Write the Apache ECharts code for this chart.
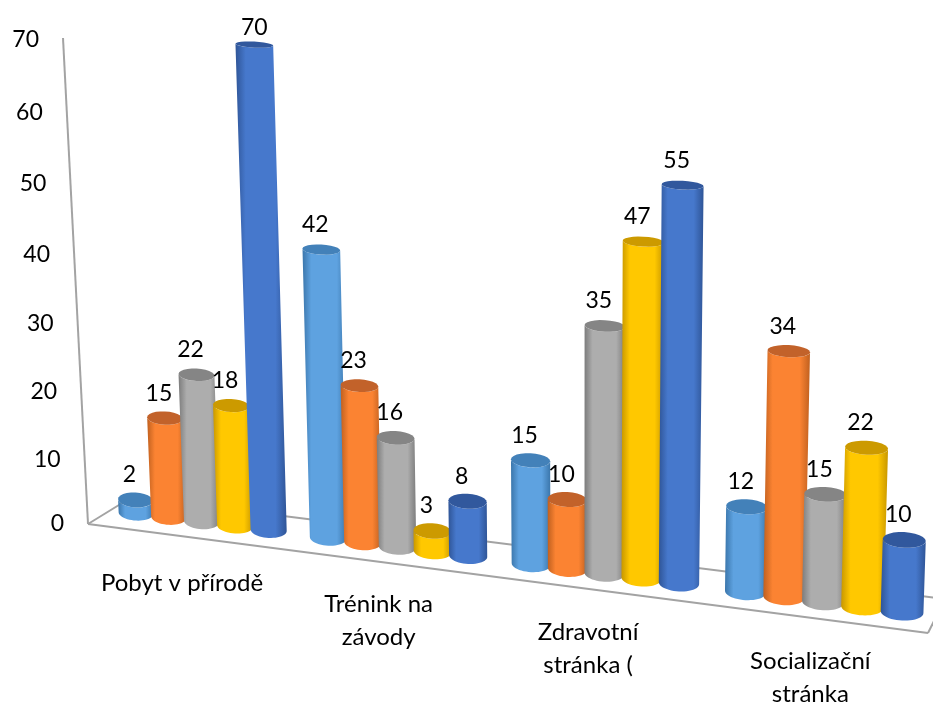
<!DOCTYPE html>
<html>
<head>
<meta charset="utf-8">
<style>html,body{margin:0;padding:0;background:#fff}#c{width:933px;height:704px}</style>
<script src="https://cdn.jsdelivr.net/npm/echarts@6/dist/echarts.min.js"></script>
</head>
<body>
<div id="c"></div>
<script>
var categories = ['Pobyt v přírodě', 'Trénink na\nzávody', 'Zdravotní\nstránka (', 'Socializační\nstránka'];
var yTicks = [0, 10, 20, 30, 40, 50, 60, 70];
var series1 = [2, 42, 15, 12];
var series2 = [15, 23, 10, 34];
var series3 = [22, 16, 35, 15];
var series4 = [18, 3, 47, 22];
var series5 = [70, 8, 55, 10];
var allSeries = [series1, series2, series3, series4, series5];

var palette = [
  {edge:'#3b76ab', mid:'#5ea2e0', top:'#4381b9'},
  {edge:'#c0601f', mid:'#fb8332', top:'#c2622a'},
  {edge:'#7c7c7c', mid:'#adadad', top:'#858585'},
  {edge:'#c89700', mid:'#ffc800', top:'#cc9a00'},
  {edge:'#2f5597', mid:'#4678cc', top:'#31589d'}
];

var SLOT_GAP = 5.75, SLOT_MAX = 21.25, BAR_W = 1.07, FONT = 'Lato';
var catShift = [[-22,-20],[-20,-26],[-16,-26],[-11,-27]];

function homography(q) {
  var x0=q[0][0],y0=q[0][1],x1=q[1][0],y1=q[1][1],x2=q[2][0],y2=q[2][1],x3=q[3][0],y3=q[3][1];
  var dx1=x1-x2,dx2=x3-x2,sx=x0-x1+x2-x3,dy1=y1-y2,dy2=y3-y2,sy=y0-y1+y2-y3;
  var den=dx1*dy2-dx2*dy1;
  var g=(sx*dy2-dx2*sy)/den,h=(dx1*sy-sx*dy1)/den;
  var a=x1-x0+g*x1,b=x3-x0+h*x3,d=y1-y0+g*y1,e=y3-y0+h*y3;
  return function(u,v){var w=g*u+h*v+1;return [(a*u+b*v+x0)/w,(d*u+e*v+y0)/w];};
}
// perspective planes: bar plane, front frame plane, floor plane
var barPlane = homography([[136,513],[902,612],[918,86],[116,36]]);
var framePlane = homography([[88,524],[928,633],[948,108],[63,38]]);
var floorPlane = homography([[88,524],[928,633],[945,599],[132,497]]);

function norm(api, slot, val) {
  var o = api.coord([0,0]), m = api.coord([SLOT_MAX,70]), p = api.coord([slot,val]);
  return [(p[0]-o[0])/(m[0]-o[0]), (p[1]-o[1])/(m[1]-o[1])];
}
function ry(y){ return 3 + (y-40)*0.0097; }
function arc(cx, cy, rx, ryy, from, to) {
  var pts=[], n=24;
  for (var i=0;i<=n;i++){
    var t=from+(to-from)*i/n, x=Math.cos(t)*rx;
    pts.push([cx+x, cy+Math.sin(t)*ryy+x*0.05]);
  }
  return pts;
}
function cylinderRender(color) {
  return function(params, api) {
    var slot=api.value(0), val=api.value(1);
    var toPx=function(s,v){var n=norm(api,s,v);return barPlane(n[0],n[1]);};
    var bl=toPx(slot-BAR_W/2,0), br=toPx(slot+BAR_W/2,0), tl=toPx(slot-BAR_W/2,val), tr=toPx(slot+BAR_W/2,val);
    var bc=[(bl[0]+br[0])/2,(bl[1]+br[1])/2], tc=[(tl[0]+tr[0])/2,(tl[1]+tr[1])/2];
    var brx=(br[0]-bl[0])/2, trx=(tr[0]-tl[0])/2;
    var bodyPts=arc(bc[0],bc[1],brx,ry(bc[1]),0,Math.PI).concat(arc(tc[0],tc[1],trx,ry(tc[1]),Math.PI,0));
    var dx=val>55?0:-6, dy=val>55?-17:-25;
    return {type:'group',children:[
      {type:'polygon',shape:{points:bodyPts},style:{fill:new echarts.graphic.LinearGradient(0,0,1,0,[
        {offset:0,color:color.edge},{offset:0.2,color:color.mid},
        {offset:0.78,color:color.mid},{offset:1,color:color.edge}])}},
      {type:'polygon',shape:{points:arc(tc[0],tc[1],trx,ry(tc[1]),0,Math.PI*2)},style:{fill:color.top}},
      {type:'text',style:{text:String(val),x:tc[0]+dx,y:tc[1]+dy,align:'center',verticalAlign:'middle',fill:'#000',fontFamily:FONT,fontSize:23}}
    ]};
  };
}

var seriesList = [];
// frame: wall axis line and floor outline
seriesList.push({
  type:'custom',name:'frame',silent:true,clip:false,data:[[0]],
  renderItem:function(params,api){
    var line=function(a,b,w){return {type:'line',shape:{x1:a[0],y1:a[1],x2:b[0],y2:b[1]},style:{stroke:'#a3a3a3',lineWidth:w||2}};};
    return {type:'group',children:[
      line(framePlane(0,1),framePlane(0,0)),
      line(floorPlane(0,0),floorPlane(1,0)),
      line(floorPlane(0,0),floorPlane(0,1)),
      line(floorPlane(0,1),floorPlane(1,1)),
      line(floorPlane(1,0),floorPlane(1,1))
    ]};
  }
});
// y tick labels
seriesList.push({
  type:'custom',name:'ticks',silent:true,clip:false,data:yTicks.map(function(t){return [0,t];}),
  renderItem:function(params,api){
    var n=norm(api,0,api.value(1)), p=framePlane(0,n[1]);
    return {type:'text',style:{text:String(api.value(1)),x:p[0]-24,y:p[1]+(api.value(1)?2:0),align:'right',verticalAlign:'middle',fill:'#000',fontFamily:FONT,fontSize:23}};
  }
});
// cylinders
allSeries.forEach(function(vals,j){
  seriesList.push({
    type:'custom',name:'s'+j,clip:false,silent:true,
    data:vals.map(function(v,i){return [i*SLOT_GAP+j,v];}),
    renderItem:cylinderRender(palette[j])
  });
});
// category labels
seriesList.push({
  type:'custom',name:'cats',silent:true,clip:false,
  data:categories.map(function(c,i){return [i*SLOT_GAP+2,-10];}),
  renderItem:function(params,api){
    var n=norm(api,api.value(0),api.value(1)), p=barPlane(n[0],n[1]), s=catShift[params.dataIndex];
    return {type:'text',style:{text:categories[params.dataIndex],x:p[0]+s[0],y:p[1]+s[1],align:'center',verticalAlign:'top',lineHeight:33,fill:'#000',fontFamily:FONT,fontSize:24}};
  }
});

var chart = echarts.init(document.getElementById('c'),null,{renderer:'canvas'});
chart.setOption({
  animation:false,
  backgroundColor:'#fff',
  grid:{left:100,right:100,top:60,bottom:120},
  xAxis:{type:'value',min:0,max:SLOT_MAX,show:false},
  yAxis:{type:'value',min:0,max:70,interval:10,show:false},
  series:seriesList
});
</script>
</body>
</html>
